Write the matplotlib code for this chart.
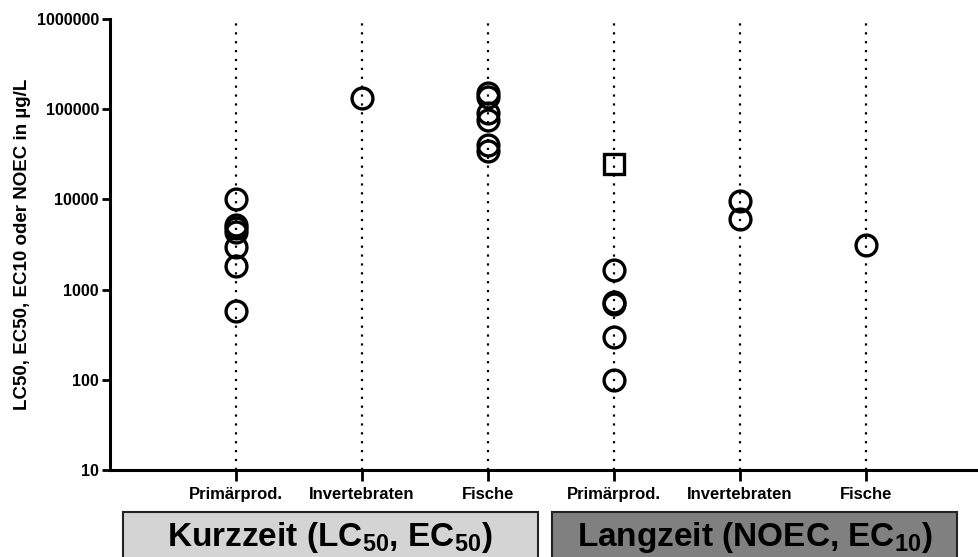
import matplotlib.pyplot as plt
from matplotlib.patches import Rectangle
import numpy as np

plt.rcParams['font.family'] = ['Liberation Sans', 'DejaVu Sans']
plt.rcParams['font.weight'] = 'bold'
plt.rcParams['mathtext.fontset'] = 'custom'
plt.rcParams['mathtext.bf'] = 'Liberation Sans:bold'
plt.rcParams['mathtext.rm'] = 'Liberation Sans:bold'

# categories (1-3 Kurzzeit, 4-6 Langzeit)
categories = ['Primärprod.', 'Invertebraten', 'Fische', 'Primärprod.', 'Invertebraten', 'Fische']

# values, µg/L
kurz_primaer = [10100, 5200, 4800, 4400, 2970, 1830, 580]
kurz_invert = [132000]
kurz_fische = [151000, 136000, 91000, 76000, 40000, 34500]
lang_primaer = [1650, 720, 690, 300, 100]
lang_primaer_square = [24700]
lang_invert = [9700, 6000]
lang_fische = [3100]

circle_groups = [kurz_primaer, kurz_invert, kurz_fische, lang_primaer, lang_invert, lang_fische]

fig = plt.figure(figsize=(9.79, 5.57), dpi=100)
ax = fig.add_axes([0.1124, 0.1562, 1 - 0.1124, 0.8097])

ax.set_yscale('log')
ax.set_ylim(10, 1000000)
ax.set_xlim(0, 6.9)

pos = np.arange(1, len(categories) + 1)
for p in pos:
    ax.plot([p, p], [10, 1000000], color='black', linestyle=(0, (1, 3)), lw=1.6, zorder=1)

for p, vals in zip(pos, circle_groups):
    ax.plot([p] * len(vals), vals, linestyle='none', marker='o', markersize=15,
            markerfacecolor='none', markeredgecolor='black', markeredgewidth=2.4, zorder=3)
ax.plot([pos[3]] * len(lang_primaer_square), lang_primaer_square, linestyle='none', marker='s',
        markersize=15, markerfacecolor='none', markeredgecolor='black', markeredgewidth=2.4, zorder=3)

ax.set_yticks([10, 100, 1000, 10000, 100000, 1000000])
ax.set_yticklabels(['10', '100', '1000', '10000', '100000', '1000000'])
ax.yaxis.set_minor_locator(plt.NullLocator())
ax.set_xticks(pos)
ax.set_xticklabels(categories, fontsize=12, fontweight='bold')
ax.tick_params(axis='y', labelsize=11.5, width=2, length=6, direction='out', pad=2)
ax.tick_params(axis='x', width=2, length=8, direction='out', pad=4)

ax.set_ylabel('LC50, EC50, EC10 oder NOEC in µg/L', fontsize=13.5, fontweight='bold', labelpad=4)

for s in ['top', 'right']:
    ax.spines[s].set_visible(False)
ax.spines['left'].set_linewidth(2.2)
ax.spines['bottom'].set_linewidth(2.2)

# category boxes below the axis
fig.patches.append(Rectangle((123 / 979, -0.05), (538 - 123) / 979, 0.05 + (557 - 512) / 557,
                             transform=fig.transFigure, facecolor='#d4d4d4', edgecolor='#222222', lw=1.5))
fig.patches.append(Rectangle((552 / 979, -0.05), (957 - 552) / 979, 0.05 + (557 - 512) / 557,
                             transform=fig.transFigure, facecolor='#808080', edgecolor='#222222', lw=1.5))
fig.text(330 / 979, (557 - 546) / 557, 'Kurzzeit (LC$_{\\mathbf{50}}$, EC$_{\\mathbf{50}}$)',
         ha='center', va='baseline', fontsize=24, fontweight='bold')
fig.text(755 / 979, (557 - 546) / 557, 'Langzeit (NOEC, EC$_{\\mathbf{10}}$)',
         ha='center', va='baseline', fontsize=24, fontweight='bold')

fig.savefig('out.png', dpi=100)
